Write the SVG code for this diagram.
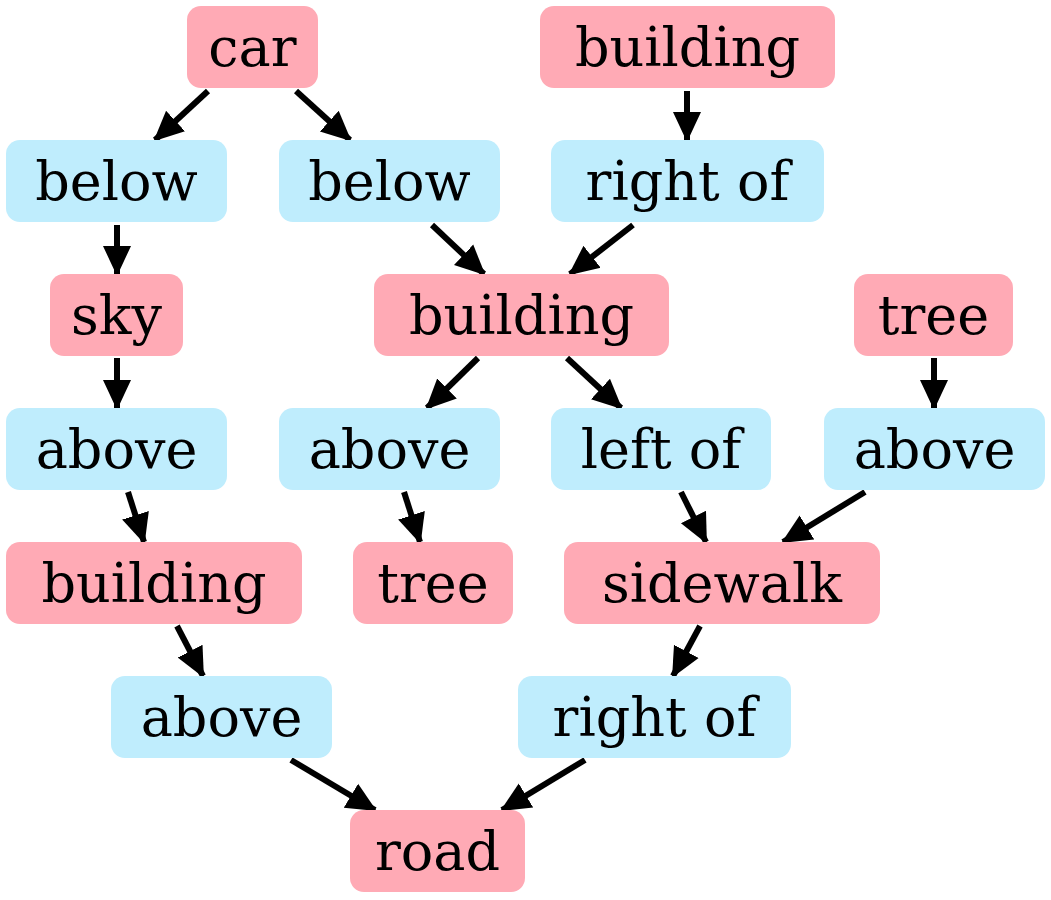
<svg xmlns="http://www.w3.org/2000/svg" width="1051" height="900" viewBox="0 0 1051 900">
<style>
.o rect{fill:#ffaab5}
.r rect{fill:#bfedfd}
text{font-family:"DejaVu Serif",serif;font-size:54px;text-anchor:middle;fill:#000}
#edges line{stroke:#000;stroke-width:6;marker-end:url(#ah)}
</style>
<defs>
<marker id="ah" markerUnits="userSpaceOnUse" viewBox="0 0 30 30" refX="28" refY="15" markerWidth="30" markerHeight="30" orient="auto">
<path d="M0,1 L30,15 L0,29 Z" fill="#000"/>
</marker>
</defs>
<rect width="1051" height="900" fill="#fff"/>
<g id="edges">
<line x1="208" y1="91" x2="155" y2="140"/>
<line x1="296" y1="91" x2="350" y2="140"/>
<line x1="687" y1="91" x2="687" y2="140"/>
<line x1="117" y1="225" x2="117" y2="274"/>
<line x1="432" y1="225" x2="484" y2="274"/>
<line x1="633" y1="225" x2="570" y2="274"/>
<line x1="117" y1="358" x2="117" y2="408"/>
<line x1="478" y1="358" x2="427" y2="408"/>
<line x1="567" y1="358" x2="621" y2="408"/>
<line x1="934" y1="358" x2="934" y2="408"/>
<line x1="128" y1="492" x2="144" y2="542"/>
<line x1="404" y1="492" x2="420" y2="542"/>
<line x1="681" y1="492" x2="706" y2="542"/>
<line x1="865" y1="492" x2="783" y2="542"/>
<line x1="177" y1="626" x2="203" y2="676"/>
<line x1="700" y1="626" x2="673" y2="676"/>
<line x1="291" y1="760" x2="375" y2="810"/>
<line x1="585" y1="760" x2="502" y2="810"/>
</g>
<g id="n1" class="o"><rect x="187" y="6" width="131" height="82" rx="14"/><text x="252.5" y="66">car</text></g>
<g id="n2" class="o"><rect x="540" y="6" width="295" height="82" rx="14"/><text x="687.5" y="66">building</text></g>
<g id="n3" class="r"><rect x="6" y="140" width="221" height="82" rx="14"/><text x="116.5" y="200">below</text></g>
<g id="n4" class="r"><rect x="279" y="140" width="221" height="82" rx="14"/><text x="389.5" y="200">below</text></g>
<g id="n5" class="r"><rect x="551" y="140" width="273" height="82" rx="14"/><text x="687.5" y="200">right of</text></g>
<g id="n6" class="o"><rect x="50" y="274" width="133" height="82" rx="14"/><text x="116.5" y="334">sky</text></g>
<g id="n7" class="o"><rect x="374" y="274" width="295" height="82" rx="14"/><text x="521.5" y="334">building</text></g>
<g id="n8" class="o"><rect x="854" y="274" width="159" height="82" rx="14"/><text x="933.5" y="334">tree</text></g>
<g id="n9" class="r"><rect x="6" y="408" width="221" height="82" rx="14"/><text x="116.5" y="468">above</text></g>
<g id="n10" class="r"><rect x="279" y="408" width="221" height="82" rx="14"/><text x="389.5" y="468">above</text></g>
<g id="n11" class="r"><rect x="551" y="408" width="220" height="82" rx="14"/><text x="661" y="468">left of</text></g>
<g id="n12" class="r"><rect x="824" y="408" width="221" height="82" rx="14"/><text x="934.5" y="468">above</text></g>
<g id="n13" class="o"><rect x="6" y="542" width="296" height="82" rx="14"/><text x="154" y="602">building</text></g>
<g id="n14" class="o"><rect x="353" y="542" width="160" height="82" rx="14"/><text x="433" y="602">tree</text></g>
<g id="n15" class="o"><rect x="564" y="542" width="316" height="82" rx="14"/><text x="722" y="602">sidewalk</text></g>
<g id="n16" class="r"><rect x="111" y="676" width="221" height="82" rx="14"/><text x="221.5" y="736">above</text></g>
<g id="n17" class="r"><rect x="518" y="676" width="273" height="82" rx="14"/><text x="654.5" y="736">right of</text></g>
<g id="n18" class="o"><rect x="350" y="810" width="175" height="82" rx="14"/><text x="437.5" y="870">road</text></g>
</svg>
